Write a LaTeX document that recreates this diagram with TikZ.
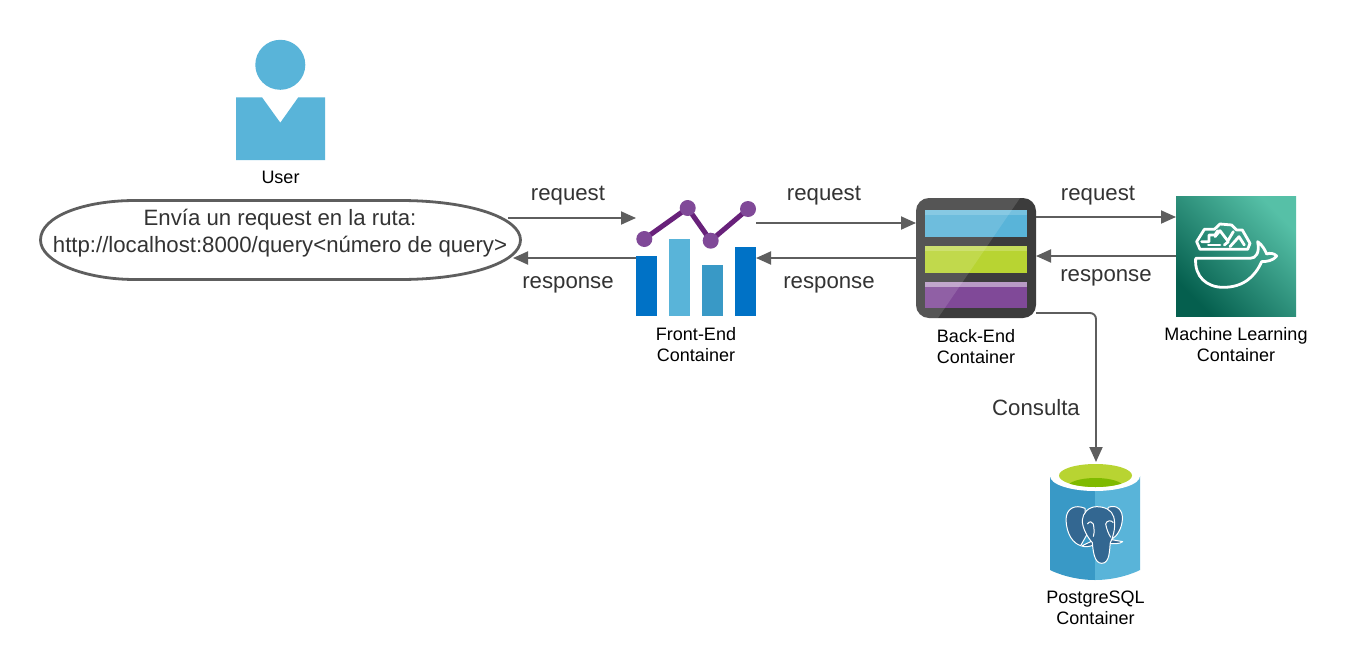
\documentclass[tikz,border=0pt]{standalone}
\usepackage{fontspec}
\setmainfont{Liberation Sans}
\usetikzlibrary{arrows.meta,calc}
\definecolor{azure}{HTML}{59B4D9}
\definecolor{azuredark}{HTML}{3999C6}
\definecolor{barblue}{HTML}{0072C6}
\definecolor{purpledot}{HTML}{804998}
\definecolor{purpleline}{HTML}{68217A}
\definecolor{linegray}{HTML}{5E5E5E}
\definecolor{textgray}{HTML}{333333}
\definecolor{limegreen}{HTML}{B8D432}
\definecolor{deepgreen}{HTML}{7FBA00}
\definecolor{elephant}{HTML}{336791}
\definecolor{bedark}{HTML}{3C3C3C}
\definecolor{mldark}{HTML}{055F4E}
\definecolor{mllight}{HTML}{56C0A7}
\tikzset{
  x=1pt,y=-1pt,
  iconbox/.style={inner sep=0pt,outer sep=0pt,minimum width=#1,minimum height=120pt},
  conn/.style={draw=linegray,line width=1.9pt,-{Triangle[length=15pt,width=13pt]}},
  biglabel/.style={font=\fontsize{22.2}{27}\selectfont,text=textgray,inner sep=0pt},
  caption/.style={font=\fontsize{18}{21.5}\selectfont,text=black,align=center,inner sep=0pt},
  whaleline/.style={draw=white,line width=2.8pt,line join=round,line cap=round},
}
\begin{document}
\begin{tikzpicture}
\useasboundingbox (0,0) rectangle (1366,664);
\fill[white] (0,0) rectangle (1366,664);

% --- User
\fill[azure] (280.3,64.8) circle[radius=25];
\fill[azure] (236,97.3) -- (262,97.3) -- (280.3,122.7) -- (298.3,97.3) -- (325,97.3) -- (325,160) -- (236,160) -- cycle;
\node[caption] (userlabel) at (280.5,177) {User};

% --- Speech ellipse
\draw[linegray,line width=2.8pt,fill=white]
  (40.5,240) .. controls (40.5,216) and (85,200.5) .. (135,200.5) -- (400,200.5)
  .. controls (470,200.5) and (520.5,218) .. (520.5,240)
  .. controls (520.5,262) and (470,279.5) .. (400,279.5) -- (135,279.5)
  .. controls (85,279.5) and (40.5,262) .. (40.5,240) -- cycle;
\node[inner sep=0pt,outer sep=0pt,minimum width=480pt,minimum height=79pt] (query) at (280.5,240) {};
\node[biglabel,align=center,anchor=center] (querytext) at (280,233) {Envía un request en la ruta:\\http://localhost:8000/query<número de query>};

% --- Front end
\node[iconbox=120pt] (fe) at (696,256) {};
\fill[barblue] (636,255.7) rectangle (657,316);
\fill[azure] (669,239) rectangle (690,316);
\fill[azuredark] (702,265) rectangle (723,316);
\fill[barblue] (735,247) rectangle (756,316);
\draw[purpleline,line width=5pt] (644.3,239) -- (687.7,208) -- (710.7,240.7) -- (748,209);
\foreach \p in {(644.3,239),(687.7,208),(710.7,240.7),(748,209)}
  \fill[purpledot] \p circle[radius=8];
\node[caption] (felabel) at (696,344.5) {Front-End\\Container};

% --- Back end
\node[iconbox=120pt] (be) at (976,258) {};
\fill[bedark,rounded corners=13pt] (916,198) rectangle (1036,318);
\fill[azure] (925.3,210) rectangle (1026.7,236.7);
\fill[limegreen] (925.3,245.7) rectangle (1026.7,272.7);
\fill[purpledot] (925.3,282) rectangle (1026.7,308.3);
\fill[white,opacity=.18] (925.3,210) rectangle (1026.7,215);
\fill[white,opacity=.2] (925.3,245.7) rectangle (1026.7,251);
\fill[white,opacity=.45] (925.3,282) rectangle (1026.7,287);
\begin{scope}
  \clip[rounded corners=13pt] (916,198) rectangle (1036,318);
  \fill[white,opacity=.13] (916,198) -- (1020,198) -- (938,318) -- (916,318) -- cycle;
\end{scope}
\node[caption] (belabel) at (976,346.5) {Back-End\\Container};

% --- Machine learning
\node[iconbox=120pt,shade,shading=axis,left color=mllight,right color=mldark,shading angle=-45] (ml) at (1236,256) {};
\begin{scope}[shift={(1165,190)},x=.3333pt,y=-.3333pt]
  \draw[whaleline] (92,205) -- (255,205) .. controls (272,205) and (285,190) .. (278,155)
     .. controls (292,165) and (300,180) .. (305,192) .. controls (315,188) and (328,190) .. (335,198)
     .. controls (325,212) and (305,215) .. (290,215) .. controls (270,260) and (235,292) .. (175,292)
     .. controls (125,292) and (88,260) .. (92,205) -- cycle;
  \draw[whaleline] (95,155) -- (118,118) -- (148,118) -- (165,102) -- (200,105) -- (215,120) -- (232,120) -- (255,160) -- (248,178) -- (105,178) -- cycle;
  \draw[whaleline] (110,155) -- (132,155) -- (132,135) -- (150,135) -- (158,122);
  \draw[whaleline] (150,140) -- (165,122) -- (190,155) -- (178,165);
  \draw[whaleline] (190,150) -- (205,125);
  \draw[whaleline] (130,165) -- (165,165);
  \draw[whaleline] (195,170) -- (222,140) -- (238,165);
\end{scope}
\node[caption] (mllabel) at (1236,344.5) {Machine Learning\\Container};

% --- PostgreSQL cylinder
\node[inner sep=0pt,outer sep=0pt,minimum width=90pt,minimum height=118pt] (pg) at (1095,521) {};
\fill[azuredark] (1050,476) -- (1095,476) -- (1095,580) .. controls (1075,580) and (1058,574) .. (1050,570) -- cycle;
\fill[azure] (1095,476) -- (1140,476) -- (1140,570) .. controls (1132,574) and (1115,580) .. (1095,580) -- cycle;
\fill[white] (1095,476) ellipse[x radius=45,y radius=15];
\fill[limegreen] (1095.5,475.5) ellipse[x radius=36.5,y radius=11.5];
\begin{scope}
  \clip (1095.5,475.5) ellipse[x radius=36.5,y radius=11.5];
  \fill[deepgreen] (1095.5,487) ellipse[x radius=28,y radius=9];
\end{scope}
\begin{scope}[shift={(1060,500)},x=.3333pt,y=-.3333pt,draw=white,fill=elephant,line width=1pt,line join=round]
  \filldraw (75,25) .. controls (45,12) and (18,25) .. (18,60) .. controls (20,105) and (40,130) .. (62,137) -- (80,105) -- cycle;
  \filldraw (145,22) .. controls (170,12) and (190,30) .. (187,60) .. controls (185,85) and (172,108) .. (155,118) -- (135,60) -- cycle;
  \filldraw (65,138) -- (98,122) -- (100,135) .. controls (90,140) and (75,142) .. (65,138) -- cycle;
  \filldraw (150,118) -- (188,125) .. controls (180,132) and (160,132) .. (148,130) -- cycle;
  \filldraw (110,20) .. controls (85,20) and (68,40) .. (67,60) .. controls (66,85) and (85,115) .. (97,128)
     .. controls (99,150) and (102,190) .. (125,190) .. controls (150,190) and (148,150) .. (151,128)
     .. controls (162,105) and (168,75) .. (161,50) .. controls (155,30) and (135,20) .. (110,20) -- cycle;
  \draw (82,72) .. controls (88,62) and (98,65) .. (100,72) .. controls (102,85) and (104,95) .. (100,110);
  \draw (137,72) .. controls (140,60) and (155,60) .. (160,68);
  \draw (137,72) .. controls (140,88) and (145,100) .. (152,112);
\end{scope}
\node[caption] (pglabel) at (1095.5,608) {PostgreSQL\\Container};

% --- Connectors
\draw[conn] ([xshift=-12.5pt,yshift=22pt]query.east) -- ([yshift=38pt]fe.west);
\draw[conn] ([yshift=-2pt]fe.west) -- ([xshift=-7.5pt,yshift=-18pt]query.east);
\draw[conn] ([yshift=33pt]fe.east) -- ([yshift=35pt]be.west);
\draw[conn] (be.west) -- ([yshift=-2pt]fe.east);
\draw[conn] ([yshift=41pt]be.east) -- ([yshift=39pt]ml.west);
\draw[conn] (ml.west) -- ([yshift=2pt]be.east);
\draw[conn,rounded corners=6pt] ([yshift=-55pt]be.east) -| ([xshift=1pt]pg.north);

% --- Connector labels
\node[biglabel] (l1) at (568,196) {request};
\node[biglabel] (l2) at (568,285) {response};
\node[biglabel] (l3) at (824,196) {request};
\node[biglabel] (l4) at (829,285) {response};
\node[biglabel] (l5) at (1098,196) {request};
\node[biglabel] (l6) at (1106,278) {response};
\node[biglabel] (l7) at (1036,407.5) {Consulta};
\end{tikzpicture}
\end{document}
